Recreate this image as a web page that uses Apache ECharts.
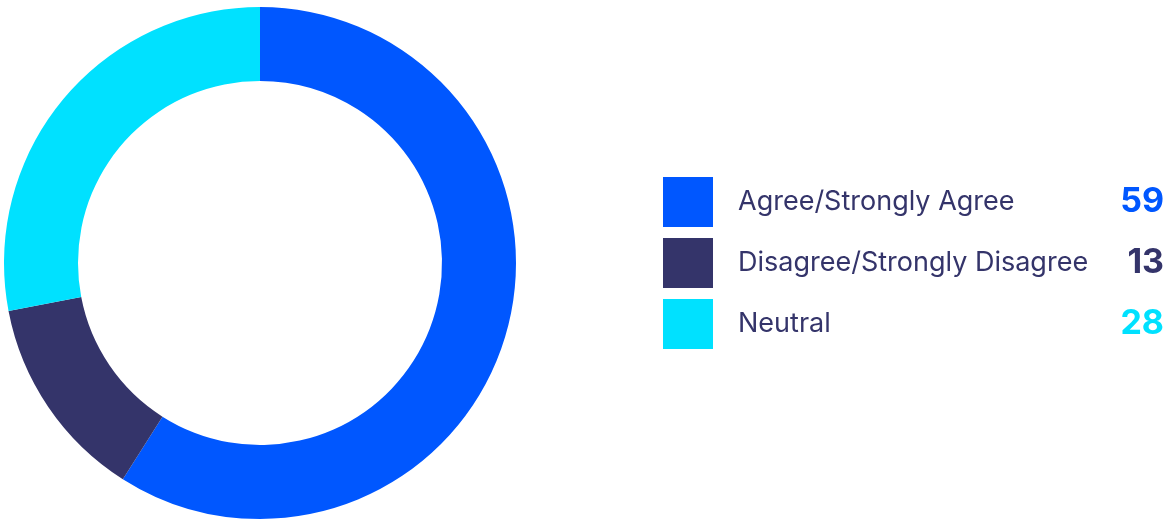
<!DOCTYPE html>
<html><head><meta charset="utf-8">
<script src="https://cdn.jsdelivr.net/npm/echarts@6/dist/echarts.min.js"></script>
<style>html,body{margin:0;padding:0;background:#fff}#c{width:1165px;height:520px}</style>
</head><body><div id="c"></div>
<script>
const categories = ['Agree/Strongly Agree', 'Disagree/Strongly Disagree', 'Neutral'];
const values = [59, 13, 28];
const colors = ['#0057FF', '#34346A', '#00E1FF'];

const chart = echarts.init(document.getElementById('c'));
const rich = { n: { fontFamily: 'Inter', fontSize: 27, color: '#34346A', width: 356, padding: [0, 0, 0, 20] } };
colors.forEach((c, i) => { rich['v' + i] = { fontFamily: 'Inter', fontSize: 34, fontWeight: 'bold', color: c, width: 70, align: 'right' }; });
chart.setOption({
  animation: false,
  legend: {
    orient: 'vertical', left: 663, top: 177, padding: 0,
    itemWidth: 50, itemHeight: 50, itemGap: 11, icon: 'rect',
    selectedMode: false,
    formatter: name => { const i = categories.indexOf(name); return '{n|' + name + '}{v' + i + '|' + values[i] + '}'; },
    textStyle: { rich: rich }
  },
  series: [{
    type: 'pie', center: [260, 263], radius: [182, 256], startAngle: 90, clockwise: true,
    label: { show: false }, labelLine: { show: false }, silent: true,
    data: categories.map((n, i) => ({ name: n, value: values[i], itemStyle: { color: colors[i] } }))
  }]
});
</script></body></html>
